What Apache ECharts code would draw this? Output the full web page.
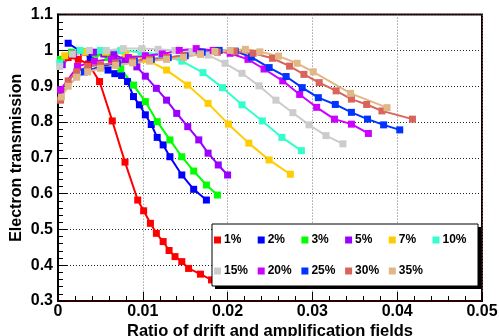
<!DOCTYPE html>
<html>
<head>
<meta charset="utf-8">
<script src="https://cdn.jsdelivr.net/npm/echarts@6/dist/echarts.min.js"></script>
<style>html,body{margin:0;padding:0;background:#fff}#c{width:499px;height:336px}</style>
</head>
<body>
<div id="c"></div>
<script>
// ---- data ----
const names = ['1%','2%','3%','5%','7%','10%','15%','20%','25%','30%','35%'];
const colors = ['#ff0000','#0000ff','#00ff00','#9900ff','#ffcc00','#33ffcc','#cccccc','#cc00ff','#0033ff','#d9645c','#e0b887'];

const x1  = [0.0003,0.0012,0.0024,0.0036,0.0049,0.0064,0.0079,0.0094,0.0101,0.0109,0.0116,0.0124,0.0131,0.0138,0.0146,0.0154,0.0168,0.0181,0.0195];
const y1  = [0.97,0.98,0.975,0.962,0.913,0.803,0.688,0.582,0.552,0.517,0.489,0.466,0.441,0.424,0.41,0.391,0.375,0.359,0.35];

const x2  = [0.0012,0.0038,0.0059,0.0067,0.0075,0.0082,0.0089,0.0096,0.0103,0.011,0.0117,0.0124,0.0132,0.0146,0.016,0.0175];
const y2  = [1.02,0.98,0.945,0.935,0.93,0.913,0.871,0.848,0.82,0.793,0.757,0.736,0.703,0.652,0.612,0.582];

const x3  = [0.0003,0.0016,0.003,0.0044,0.0059,0.0074,0.0089,0.0103,0.0117,0.0132,0.0146,0.016,0.0175,0.0188];
const y3  = [0.975,0.995,0.995,0.99,0.98,0.948,0.903,0.857,0.801,0.75,0.703,0.663,0.624,0.596];

const x5  = [0.0005,0.0018,0.003,0.0042,0.0054,0.0066,0.0079,0.0093,0.0103,0.0116,0.0128,0.014,0.0153,0.0166,0.0177,0.0189,0.02];
const y5  = [0.96,0.99,0.995,0.995,0.99,0.988,0.975,0.954,0.928,0.894,0.861,0.824,0.787,0.75,0.713,0.68,0.652];

const x7  = [0.0008,0.0032,0.0056,0.008,0.0104,0.0128,0.0153,0.0177,0.0201,0.0225,0.0249,0.0274];
const y7  = [0.985,0.995,0.995,0.99,0.975,0.945,0.903,0.852,0.794,0.741,0.694,0.654];

const x10 = [0.0002,0.0026,0.005,0.0074,0.0098,0.0122,0.0146,0.0171,0.0194,0.0217,0.0241,0.0264,0.0287];
const y10 = [0.965,1.0,1.0,1.0,0.995,0.988,0.97,0.938,0.896,0.848,0.803,0.757,0.72];

const x15 = [0.0002,0.0017,0.0037,0.0057,0.0077,0.0099,0.0118,0.0138,0.0158,0.0177,0.0197,0.0217,0.0237,0.0257,0.0277,0.0296,0.0316,0.0336];
const y15 = [0.955,0.99,1.0,1.0,1.005,1.005,1.003,1.0,0.997,0.987,0.964,0.936,0.901,0.861,0.826,0.792,0.762,0.739];

const x20 = [0.0003,0.0023,0.0043,0.0063,0.0083,0.0103,0.0123,0.0143,0.0163,0.0183,0.0203,0.0224,0.0243,0.0265,0.0285,0.0305,0.0326,0.0346,0.0366];
const y20 = [0.89,0.955,0.97,0.975,0.98,0.985,0.99,1.0,1.005,1.0,0.992,0.975,0.948,0.915,0.877,0.841,0.808,0.794,0.768];

const x25 = [0.0031,0.005,0.007,0.009,0.011,0.013,0.015,0.017,0.019,0.0209,0.0228,0.0249,0.0269,0.0288,0.0307,0.0327,0.0346,0.0365,0.0384,0.0403];
const y25 = [0.94,0.955,0.965,0.97,0.975,0.98,0.985,0.995,1.0,0.998,0.981,0.952,0.927,0.896,0.868,0.849,0.827,0.808,0.792,0.778];

const x30 = [0.0003,0.0012,0.0022,0.0035,0.005,0.0068,0.0088,0.0108,0.0128,0.0148,0.0168,0.0188,0.0208,0.023,0.0253,0.0273,0.029,0.0308,0.0328,0.0346,0.0364,0.0382,0.0418];
const y30 = [0.861,0.915,0.94,0.955,0.96,0.965,0.97,0.975,0.98,0.985,0.99,0.995,0.997,0.992,0.978,0.956,0.933,0.91,0.887,0.864,0.849,0.831,0.808];

const x35 = [0.0004,0.0012,0.0022,0.0035,0.005,0.0068,0.0088,0.0108,0.0128,0.0148,0.0168,0.0185,0.0203,0.0221,0.0238,0.026,0.0282,0.0301,0.0345,0.0388];
const y35 = [0.87,0.9,0.925,0.94,0.95,0.958,0.965,0.97,0.975,0.98,0.99,0.997,1.0,1.003,0.996,0.984,0.964,0.94,0.88,0.84];

const xTicks = ['0','0.01','0.02','0.03','0.04','0.05'];
const yTicks = ['0.3','0.4','0.5','0.6','0.7','0.8','0.9','1','1.1'];

const xs = [x1,x2,x3,x5,x7,x10,x15,x20,x25,x30,x35];
const ys = [y1,y2,y3,y5,y7,y10,y15,y20,y25,y30,y35];

const FONT = 'Liberation Sans, Arial, Helvetica, sans-serif';

const series = names.map((n, i) => ({
  name: n,
  type: 'line',
  data: xs[i].map((x, j) => [x, ys[i][j]]),
  symbol: 'rect',
  symbolSize: 7,
  showSymbol: true,
  color: colors[i],
  itemStyle: { color: colors[i] },
  lineStyle: { color: colors[i], width: 2 },
  z: 2,
  animation: false
}));

// legend: one entry per cell of a 6-column table
const legends = names.map((n, i) => {
  const col = i % 6, row = Math.floor(i / 6);
  return {
    z: 20,
    left: 214 + col * 43.7,
    top: 233 + row * 31,
    padding: 0,
    itemWidth: 7, itemHeight: 7,
    icon: 'rect',
    data: [n],
    textStyle: { fontFamily: FONT, fontWeight: 'bold', fontSize: 12, lineHeight: 14, color: '#000', padding: [0, 0, 0, -2] }
  };
});

const chart = echarts.init(document.getElementById('c'), null, { renderer: 'canvas' });
chart.setOption({
  animation: false,
  backgroundColor: '#fff',
  grid: { left: 58, right: 17, top: 14.6, bottom: 35, show: true, borderColor: '#1a0000', borderWidth: 2,
          backgroundColor: 'transparent', containLabel: false, outerBoundsMode: 'none' },
  xAxis: {
    type: 'value', min: 0, max: 0.05, interval: 0.01,
    name: 'Ratio of drift and amplification fields',
    nameLocation: 'middle', nameGap: 22, nameMoveOverlap: false,
    nameTextStyle: { fontFamily: FONT, fontWeight: 'bold', fontSize: 16.5, color: '#000' },
    axisLine: { show: true, lineStyle: { color: '#2a0000', width: 2 } },
    axisTick: { show: true, inside: true, length: 9, lineStyle: { color: '#000' } },
    minorTick: { show: true, splitNumber: 5, length: 5, lineStyle: { color: '#000' } },
    splitLine: { show: true, lineStyle: { type: [1, 2], color: '#777', width: 1 } },
    axisLabel: { margin: 3, fontFamily: FONT, fontWeight: 'bold', fontSize: 16, color: '#000',
      formatter: v => xTicks[Math.round(v / 0.01)] },
  },
  yAxis: {
    type: 'value', min: 0.3, max: 1.1, interval: 0.1,
    name: 'Electron transmission',
    nameLocation: 'middle', nameGap: 33, nameMoveOverlap: false,
    nameTextStyle: { fontFamily: FONT, fontWeight: 'bold', fontSize: 16, color: '#000' },
    axisLine: { show: true, lineStyle: { color: '#000', width: 2 } },
    axisTick: { show: true, inside: true, length: 9, lineStyle: { color: '#000' } },
    minorTick: { show: true, splitNumber: 5, length: 5, lineStyle: { color: '#000' } },
    splitLine: { show: true, lineStyle: { type: [1, 2], color: '#222', width: 1 } },
    axisLabel: { margin: 5, fontFamily: FONT, fontWeight: 'bold', fontSize: 16, color: '#000',
      formatter: v => yTicks[Math.round((v - 0.3) / 0.1)] },
  },
  graphic: [
    { type: 'rect', z: 10, shape: { x: 215, y: 227, width: 266, height: 62 }, style: { fill: '#000' } },
    { type: 'rect', z: 11, shape: { x: 212, y: 224, width: 266, height: 62 }, style: { fill: '#fff', stroke: '#000', lineWidth: 1 } }
  ],
  legend: legends,
  series: series
});
</script>
</body>
</html>
